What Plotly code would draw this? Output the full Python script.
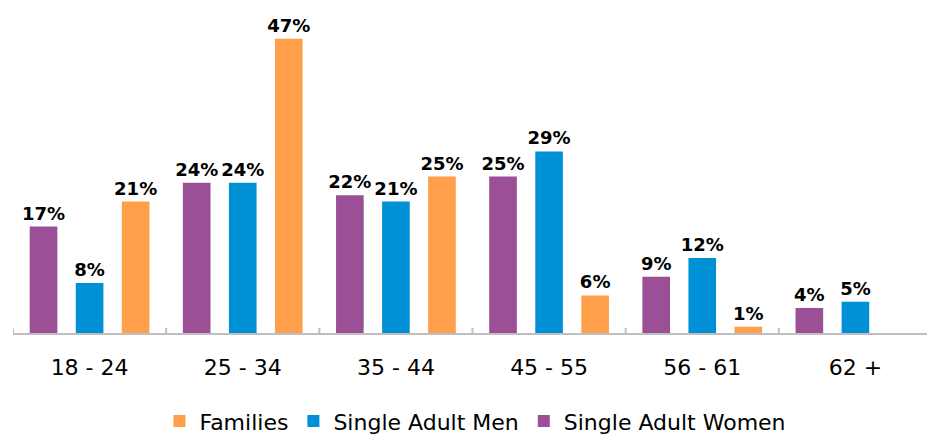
import plotly.graph_objects as go

categories = ["18 - 24", "25 - 34", "35 - 44", "45 - 55", "56 - 61", "62 +"]
women = [17, 24, 22, 25, 9, 4]
men = [8, 24, 21, 29, 12, 5]
families = [21, 47, 25, 6, 1, None]

series = [
    ("Single Adult Women", women, "#9B4F96"),
    ("Single Adult Men", men, "#0090D6"),
    ("Families", families, "#FF9F4A"),
]

FONT = "DejaVu Sans"

fig = go.Figure()
for name, vals, color in series:
    fig.add_trace(go.Bar(
        name=name,
        x=categories,
        y=vals,
        marker=dict(color=color, line=dict(width=0)),
        text=[f"{v}%" if v is not None else "" for v in vals],
        textposition="outside",
        constraintext="none",
        textfont=dict(family=FONT, size=18, color="#000000", weight="bold"),
        cliponaxis=False,
    ))

shapes = []
for i in range(len(categories) + 1):
    shapes.append(dict(
        type="line", xref="x", yref="y",
        x0=i - 0.5, x1=i - 0.5,
        ysizemode="pixel", yanchor=0, y0=-9, y1=5,
        line=dict(color="#BFBFBF", width=2),
    ))

fig.update_layout(
    width=935, height=434,
    margin=dict(l=5, r=11, t=12, b=109, autoexpand=False),
    paper_bgcolor="white", plot_bgcolor="white",
    barmode="group", bargap=0.098, bargroupgap=0.40,
    showlegend=True,
    legend=dict(
        orientation="h", traceorder="reversed",
        xref="container", yref="container",
        x=0.5, xanchor="center", y=0.048, yanchor="middle",
        font=dict(family=FONT, size=22, color="#000000"),
    ),
    xaxis=dict(
        range=[-0.5, 5.5], showline=True, linecolor="#BFBFBF", linewidth=2,
        ticks="", showgrid=False, zeroline=False, automargin=False,
        tickfont=dict(family=FONT, size=22, color="#000000"),
        ticklabelstandoff=14,
    ),
    yaxis=dict(range=[0, 50], visible=False, showgrid=False, zeroline=False),
    shapes=shapes,
)

fig.write_html("out.html")
